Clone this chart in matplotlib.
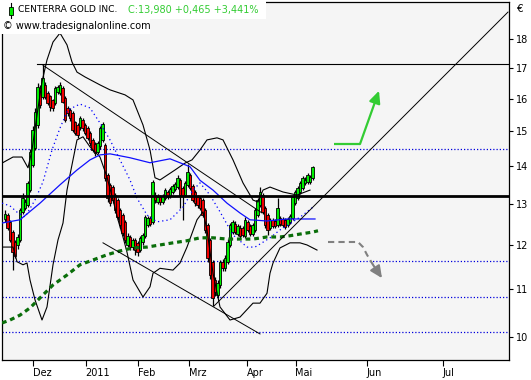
import numpy as np
import matplotlib
matplotlib.use("Agg")
import matplotlib.pyplot as plt
from matplotlib.ticker import FixedLocator, NullLocator, FuncFormatter
from matplotlib.patches import Rectangle
from matplotlib.lines import Line2D

plt.rcParams['font.family'] = ['DejaVu Sans']
plt.rcParams['font.size'] = 7

# daily candles, Nov 2010 - May 2011 (EUR)
opens = [12.62, 12.72, 12.55, 12.30, 12.06, 11.99, 12.11, 12.80, 12.90, 12.97,
         13.36, 14.04, 14.52, 15.19, 16.34, 16.05, 16.44, 16.18, 16.08, 15.96,
         15.86, 16.21, 16.18, 16.34, 16.02, 15.71, 15.65, 15.56, 15.28, 15.19,
         15.13, 15.34, 15.19, 15.10, 14.96, 14.75, 14.63, 14.40, 14.57, 14.75,
         14.60, 13.77, 13.50, 13.44, 13.23, 13.10, 12.85, 12.72, 12.55, 11.99,
         12.18, 11.94, 12.11, 12.04, 11.87, 12.06, 12.21, 12.47, 12.65, 12.55,
         13.23, 13.05, 13.18, 13.05, 13.15, 13.31, 13.20, 13.31, 13.39, 13.44,
         13.63, 13.42, 13.23, 13.50, 13.77, 13.47, 13.31, 13.18, 13.15, 13.10,
         12.85, 12.47, 12.11, 11.60, 11.19, 10.86, 11.08, 11.60, 11.45, 11.60,
         11.99, 12.30, 12.50, 12.25, 12.40, 12.40, 12.21, 12.55, 12.45, 12.25,
         12.35, 12.72, 12.97, 13.23, 12.90, 12.72, 12.40, 12.60, 12.57, 12.47,
         12.65, 12.62, 12.60, 12.47, 12.55, 12.65, 13.02, 13.15, 13.31, 13.42,
         13.55, 13.58, 13.58, 13.69]
highs = [12.85, 12.78, 12.60, 12.35, 12.10, 12.25, 12.90, 13.28, 13.12, 13.60,
         14.50, 15.15, 15.70, 16.50, 16.45, 17.10, 16.55, 16.25, 16.12, 16.00,
         16.40, 16.45, 16.55, 16.40, 16.08, 15.78, 15.70, 15.60, 15.32, 15.25,
         15.45, 15.40, 15.25, 15.15, 15.00, 14.80, 14.70, 14.72, 15.15, 15.28,
         14.65, 13.82, 13.55, 13.50, 13.28, 13.15, 12.90, 12.78, 12.60, 12.28,
         12.23, 12.16, 12.16, 12.08, 12.20, 12.28, 12.72, 12.70, 12.70, 13.63,
         13.30, 13.25, 13.22, 13.25, 13.42, 13.36, 13.44, 13.52, 13.58, 13.75,
         13.68, 13.47, 13.60, 14.07, 13.82, 13.52, 13.36, 13.23, 13.20, 13.15,
         12.90, 12.52, 12.16, 11.65, 11.25, 11.18, 11.65, 11.66, 11.75, 12.12,
         12.52, 12.60, 12.56, 12.50, 12.46, 12.45, 12.66, 12.60, 12.50, 12.52,
         12.90, 13.15, 13.45, 13.28, 12.95, 12.77, 12.65, 12.65, 12.62, 13.15,
         12.70, 12.66, 12.64, 12.66, 12.75, 13.23, 13.36, 13.47, 13.60, 13.74,
         13.70, 13.82, 13.76, 14.02]
lows = [12.55, 12.35, 12.05, 11.41, 11.68, 11.90, 12.05, 12.75, 12.85, 12.92,
        13.30, 13.98, 14.45, 15.10, 15.72, 15.98, 15.98, 15.80, 15.62, 15.60,
        15.80, 16.15, 16.12, 15.85, 15.28, 15.45, 15.32, 14.98, 14.90, 14.82,
        15.05, 15.02, 14.90, 14.75, 14.58, 14.40, 14.30, 14.35, 14.50, 14.70,
        13.60, 13.05, 12.95, 13.02, 12.78, 12.60, 12.40, 12.20, 12.04, 11.94,
        11.88, 11.88, 11.76, 11.73, 11.82, 12.00, 12.15, 12.42, 12.45, 12.50,
        13.02, 13.00, 12.98, 13.00, 13.10, 13.12, 13.15, 13.26, 13.34, 13.40,
        12.90, 12.60, 13.18, 13.45, 13.36, 13.04, 12.96, 12.90, 12.84, 12.66,
        12.28, 11.60, 11.22, 10.62, 10.85, 10.80, 11.02, 11.38, 11.40, 11.55,
        11.94, 12.25, 12.24, 12.20, 12.15, 12.17, 12.16, 12.30, 12.20, 12.20,
        12.30, 12.66, 12.92, 12.74, 12.40, 12.23, 12.35, 12.40, 12.40, 12.42,
        12.45, 12.42, 12.37, 12.42, 12.50, 12.60, 12.97, 13.10, 13.26, 13.37,
        13.50, 13.52, 13.53, 13.64]
closes = [12.75, 12.40, 12.11, 11.82, 11.74, 12.18, 12.85, 13.15, 13.05, 13.55,
          14.40, 15.04, 15.58, 16.37, 15.80, 16.67, 16.05, 15.86, 15.74, 15.71,
          16.34, 16.37, 16.44, 15.90, 15.34, 15.56, 15.40, 15.04, 14.96, 14.90,
          15.40, 15.10, 14.96, 14.81, 14.66, 14.46, 14.38, 14.66, 15.10, 15.22,
          13.68, 13.15, 13.02, 13.10, 12.85, 12.67, 12.47, 12.28, 12.11, 12.21,
          11.94, 12.11, 11.87, 11.82, 12.16, 12.23, 12.67, 12.65, 12.50, 13.58,
          13.10, 13.18, 13.05, 13.20, 13.36, 13.18, 13.39, 13.47, 13.52, 13.69,
          13.23, 13.20, 13.55, 13.85, 13.42, 13.10, 13.02, 12.97, 12.90, 12.72,
          12.35, 11.69, 11.30, 10.80, 10.93, 11.12, 11.60, 11.45, 11.69, 12.06,
          12.47, 12.55, 12.30, 12.45, 12.21, 12.23, 12.60, 12.35, 12.25, 12.47,
          12.85, 13.10, 13.31, 12.80, 12.47, 12.35, 12.60, 12.45, 12.45, 12.90,
          12.50, 12.47, 12.42, 12.62, 12.70, 13.18, 13.31, 13.42, 13.55, 13.69,
          13.63, 13.77, 13.71, 13.98]

# indicator curves as (bar, price)
upper_band = [(-1.2, 14.09), (3.2, 14.26), (6.8, 14.26), (9.2, 13.96), (10.8, 14.46),
              (12.8, 15.49), (14.8, 16.54), (16.8, 17.27), (19.2, 17.89), (22.0, 18.21),
              (24.8, 17.79), (26.8, 17.20), (28.8, 16.86), (32.0, 16.70), (38.0, 16.44),
              (42.0, 16.28), (48.0, 16.12), (51.2, 15.96), (55.2, 15.19), (58.0, 14.46),
              (60.0, 13.69), (62.0, 13.63), (68.0, 13.90), (72.0, 14.09), (74.8, 14.18),
              (78.0, 14.46), (80.8, 14.75), (84.8, 14.81), (87.2, 14.75), (91.2, 14.18),
              (95.2, 13.55), (99.2, 13.10), (101.2, 13.05), (103.2, 13.36), (106.0, 13.44),
              (111.2, 13.31), (116.8, 13.23), (122.0, 13.36)]
lower_band = [(-1.2, 11.94), (3.2, 11.94), (4.8, 11.60), (7.2, 11.53), (8.8, 11.57),
              (10.0, 11.19), (12.0, 10.76), (14.8, 10.34), (16.8, 10.61), (19.2, 11.53),
              (21.2, 12.11), (23.2, 12.52), (24.8, 13.36), (26.0, 13.77), (28.8, 14.75),
              (31.2, 14.84), (34.0, 14.55), (38.0, 14.26), (40.8, 13.71), (43.2, 13.10),
              (45.2, 12.60), (47.2, 12.18), (48.8, 11.82), (51.2, 11.19), (55.2, 10.82),
              (58.0, 11.04), (59.2, 11.34), (62.0, 11.45), (67.2, 11.41), (70.0, 11.57),
              (72.8, 11.94), (76.8, 12.60), (79.2, 12.80), (80.8, 12.35), (83.2, 11.34),
              (86.0, 10.61), (90.0, 10.34), (94.0, 10.40), (99.2, 10.69), (102.0, 10.69),
              (104.8, 10.90), (106.0, 11.34), (107.2, 11.57), (110.0, 11.92), (114.0, 12.04),
              (118.0, 12.04), (120.8, 11.99), (124.8, 11.87)]
ma_blue = [(-1.2, 12.52), (6.0, 12.60), (14.0, 13.02), (22.0, 13.50), (28.8, 13.90),
           (34.0, 14.18), (38.0, 14.32), (42.0, 14.35), (50.0, 14.24), (58.0, 14.10),
           (66.0, 14.21), (74.0, 13.99), (78.0, 13.62), (83.2, 13.36), (88.8, 13.02),
           (94.0, 12.77), (98.0, 12.60), (104.8, 12.57), (112.8, 12.62), (124.0, 12.62)]
ma_dotted = [(-1.2, 13.02), (2.0, 12.95), (5.2, 12.77), (8.0, 12.67), (12.0, 13.10),
             (15.2, 13.58), (18.8, 14.46), (22.0, 15.10), (25.2, 15.65), (30.0, 15.83),
             (34.0, 15.71), (38.0, 15.25), (42.0, 14.75), (46.0, 14.18), (50.0, 13.63),
             (52.8, 13.15), (56.8, 12.72), (60.8, 12.55), (66.0, 12.60), (71.2, 12.92),
             (75.2, 13.36), (78.0, 13.55), (82.0, 13.23), (86.0, 12.80), (91.2, 12.23),
             (96.8, 11.94), (100.0, 11.94), (102.8, 12.04), (106.0, 12.16), (110.0, 12.35),
             (114.0, 12.50), (119.2, 12.72), (123.2, 12.92)]
ma_green = [(-1.2, 10.28), (2.0, 10.34), (6.0, 10.44), (10.0, 10.59), (14.0, 10.80),
            (19.2, 11.08), (24.8, 11.30), (30.0, 11.53), (35.2, 11.64), (40.8, 11.76),
            (46.0, 11.85), (51.2, 11.92), (56.8, 11.94), (62.0, 11.99), (67.2, 12.04),
            (72.8, 12.09), (78.0, 12.16), (83.2, 12.16), (88.8, 12.13), (94.0, 12.13),
            (99.2, 12.13), (104.8, 12.18), (110.0, 12.18), (114.0, 12.21), (118.0, 12.25),
            (123.2, 12.30), (125.2, 12.33)]

# drawn lines
thick_level = 13.21
top_level = 17.13
top_level_start = 12.7
dotted_levels = [14.49, 11.62, 10.82, 10.09]
down_line = [(15.2, 17.09), (102.8, 12.77)]
channel_line = [(39.2, 12.04), (102.0, 10.06)]
up_line = [(83.6, 10.63), (201.2, 18.98)]
green_arrow = [(131.6, 14.63), (142.0, 14.63), (149.6, 16.25)]
grey_arrow = [(129.2, 12.06), (141.2, 12.06), (143.2, 11.94), (144.8, 11.76),
              (147.2, 11.53), (150.8, 11.23)]

month_pos = [11.0, 32.3, 53.3, 73.7, 96.9, 116.2, 144.7, 175.1]
month_labels = ['Dez', '2011', 'Feb', 'Mrz', 'Apr', 'Mai', 'Jun', 'Jul']
price_ticks = [10, 11, 12, 13, 14, 15, 16, 17, 18]

GREEN = '#00ee00'
RED = '#f00000'


def xy(pairs):
    a = np.array(pairs)
    return a[:, 0], a[:, 1]


fig = plt.figure(figsize=(5.31, 3.80), dpi=100)
ax = fig.add_axes([2 / 531, 20 / 380, 507 / 531, 358 / 380])
ax.set_facecolor('#f5f5f5')
ax.set_yscale('log')

# candles
x = np.arange(len(closes))
o = np.array(opens)
c = np.array(closes)
up = c >= o
ax.vlines(x, lows, highs, color='black', lw=0.9, zorder=2)
ax.bar(x[up], (c - o)[up], bottom=o[up], width=0.95, color=GREEN,
       edgecolor='black', lw=0.6, zorder=2.5)
ax.bar(x[~up], (o - c)[~up], bottom=c[~up], width=0.95, color=RED,
       edgecolor='black', lw=0.6, zorder=2.5)

# levels
for lv in dotted_levels:
    ax.axhline(lv, color='#0000dd', lw=0.9, ls=(0, (1, 1.6)), zorder=1)
ax.axhline(thick_level, color='black', lw=2.0, zorder=4)
ax.plot([top_level_start, 202], [top_level, top_level], color='black', lw=0.8, zorder=4)

# indicators
ax.plot(*xy(upper_band), color='black', lw=0.8, zorder=3)
ax.plot(*xy(lower_band), color='black', lw=0.8, zorder=3)
ax.plot(*xy(ma_blue), color='#1010ff', lw=0.9, zorder=3)
ax.plot(*xy(ma_dotted), color='#0000ff', lw=0.9, ls=(0, (1, 2.4)), zorder=3)
ax.plot(*xy(ma_green), color='#0a6e0a', lw=2.3, ls=(0, (1.5, 1.2)), zorder=3)

# trend lines
for ln in (down_line, channel_line, up_line):
    ax.plot(*xy(ln), color='black', lw=0.7, zorder=4)

# arrows
gx, gy = xy(green_arrow)
ax.plot(gx[:-1], gy[:-1], color='#33cc33', lw=1.6, zorder=5, solid_capstyle='butt')
ax.annotate('', xy=green_arrow[-1], xytext=green_arrow[-2],
            arrowprops=dict(arrowstyle='-|>,head_length=0.6,head_width=0.28',
                            color='#33cc33', lw=1.6, shrinkA=0, shrinkB=0,
                            mutation_scale=12), zorder=5)
rx, ry = xy(grey_arrow)
ax.plot(rx[:-1], ry[:-1], color='#808080', lw=1.5, ls=(0, (3, 2)), zorder=5)
ax.annotate('', xy=grey_arrow[-1], xytext=grey_arrow[-2],
            arrowprops=dict(arrowstyle='-|>,head_length=0.6,head_width=0.28',
                            color='#808080', lw=1.5, shrinkA=0, shrinkB=0,
                            mutation_scale=12), zorder=5)

ax.set_xlim(-1.2, 201.6)
ax.set_ylim(9.556, 19.36)

ax.yaxis.tick_right()
ax.yaxis.set_major_locator(FixedLocator(price_ticks))
ax.yaxis.set_minor_locator(NullLocator())
ax.yaxis.set_major_formatter(FuncFormatter(lambda v, _: f'{v:g}'))
ax.tick_params(axis='y', length=3, width=0.8, pad=2, labelsize=7)
ax.set_xticks(month_pos)
ax.set_xticklabels(month_labels)
ax.tick_params(axis='x', length=4, width=0.8, pad=1.5, labelsize=7)
for lab in ax.get_xticklabels():
    lab.set_horizontalalignment('left')
for sp in ax.spines.values():
    sp.set_linewidth(0.9)

# header
fig.add_artist(Rectangle((0, 1 - 19 / 380), 266 / 531, 19 / 380, transform=fig.transFigure,
                         facecolor='white', edgecolor='none', zorder=5))
fig.add_artist(Rectangle((0, 1 - 34 / 380), 150 / 531, 15 / 380, transform=fig.transFigure,
                         facecolor='white', edgecolor='none', zorder=5))
fig.add_artist(Line2D([10.5 / 531, 10.5 / 531], [1 - 18 / 380, 1 - 3 / 380],
                      transform=fig.transFigure, color='black', lw=0.8, zorder=6))
fig.add_artist(Rectangle((8.5 / 531, 1 - 15 / 380), 4 / 531, 8 / 380, transform=fig.transFigure,
                         facecolor=GREEN, edgecolor='black', lw=0.6, zorder=7))
fig.text(18 / 531, 1 - 10 / 380, 'CENTERRA GOLD INC.', fontsize=6.6, va='center', ha='left', zorder=8)
fig.text(128 / 531, 1 - 10 / 380, 'C:13,980 +0,465 +3,441%', fontsize=7, color='#33cc33',
         va='center', ha='left', zorder=8)
fig.text(3 / 531, 1 - 26 / 380, '\u00a9 www.tradesignalonline.com', fontsize=7,
         va='center', ha='left', zorder=8)
fig.text(517 / 531, 1 - 9 / 380, '\u20ac', fontsize=7.5, va='center', ha='left')

fig.savefig('out.png', dpi=100)
